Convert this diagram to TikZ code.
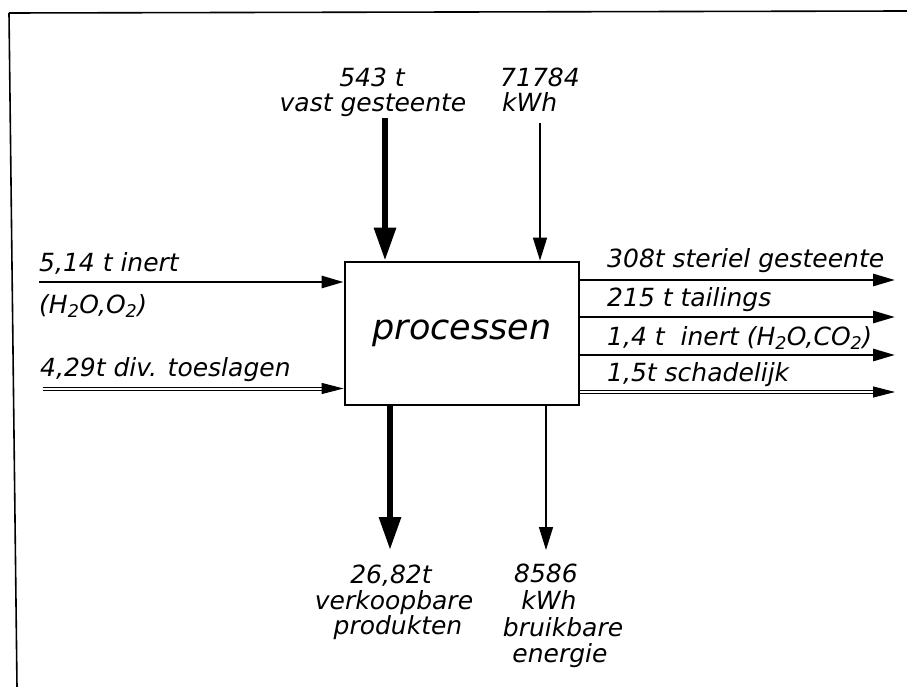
\documentclass[tikz,border=0pt]{standalone}
\usepackage{fontspec}
\setmainfont{DejaVu Sans}
\usetikzlibrary{arrows.meta}
\begin{document}
\begin{tikzpicture}[x=1pt,y=-1pt,
  lbl/.style={font=\fontsize{25}{28}\selectfont\itshape, inner sep=0pt},
  procbox/.style={draw, line width=2.8pt, minimum width=234pt, minimum height=143pt,
    font=\fontsize{35}{40}\selectfont\itshape},
  frameline/.style={line width=1.6pt},
  heavyarr/.style={line width=6pt, -{Triangle[length=33pt,width=21pt]}},
  normarr/.style={line width=2.8pt, -{Triangle[length=22pt,width=12pt]}},
  thinarr/.style={line width=1.5pt, -{Triangle[length=23pt,width=14pt]}},
  dblarr/.style={line width=1pt, double, double distance=2pt, -{Triangle[length=22pt,width=11pt]}}
]
\useasboundingbox (0,0) rectangle (907,687);
% frame
\draw[frameline] (9,13) -- (907,11);
\draw[frameline] (9,13) -- (17,687);

% process box
\node[procbox] (box) at (462,333.5) {processen};

% top inputs
\coordinate (srcRock) at (385,118);
\draw[heavyarr] (srcRock) -- (srcRock |- box.north);
\coordinate (srcE) at (540,123);
\draw[thinarr] (srcE) -- (srcE |- box.north);

% bottom outputs
\coordinate (prod) at (390,550);
\draw[heavyarr] (prod |- box.south) -- (prod);
\coordinate (energ) at (546,550);
\draw[thinarr] (energ |- box.south) -- (energ);

% left inputs
\coordinate (inInert) at (39,282);
\draw[normarr] (inInert) -- (inInert -| box.west);
\coordinate (inToes) at (43,388.5);
\draw[dblarr] (inToes) -- (inToes -| box.west);

% right outputs
\coordinate (outSter) at (895,280);
\draw[normarr] (outSter -| box.east) -- (outSter);
\coordinate (outTail) at (895,317);
\draw[normarr] (outTail -| box.east) -- (outTail);
\coordinate (outInert) at (895,355);
\draw[normarr] (outInert -| box.east) -- (outInert);
\coordinate (outSchad) at (895,392);
\draw[dblarr] (outSchad -| box.east) -- (outSchad);

% labels left
\node[lbl, anchor=base west] (lInert) at (39,271) {5,14 t inert};
\node[lbl, anchor=base west] (lInertC) at (39,313) {(H\textsubscript{2}O,O\textsubscript{2})};
\node[lbl, anchor=base west] (lToes) at (40,376) {4,29t div. toeslagen};

% labels right
\node[lbl, anchor=base west] (lSter) at (607,267) {308t steriel gesteente};
\node[lbl, anchor=base west] (lTail) at (607,306) {215 t tailings};
\node[lbl, anchor=base west] (lOInert) at (607,345) {1,4 t \ inert (H\textsubscript{2}O,CO\textsubscript{2})};
\node[lbl, anchor=base west] (lSchad) at (607,381) {1,5t schadelijk};

% labels top
\node[lbl, anchor=base] (lRock1) at (372,87) {543 t};
\node[lbl, anchor=base] (lRock2) at (373,112) {vast gesteente};
\node[lbl, anchor=base west] (lE1) at (500,87) {71784};
\node[lbl, anchor=base west] (lE2) at (502,112) {kWh};

% labels bottom
\node[lbl, anchor=base] (lProd1) at (391,583) {26,82t};
\node[lbl, anchor=base] (lProd2) at (394,609) {verkoopbare};
\node[lbl, anchor=base] (lProd3) at (398,634) {produkten};
\node[lbl, anchor=base] (lEn1) at (546,582) {8586};
\node[lbl, anchor=base] (lEn2) at (549,609) {kWh};
\node[lbl, anchor=base] (lEn3) at (563,636) {bruikbare};
\node[lbl, anchor=base] (lEn4) at (560,662) {energie};
\end{tikzpicture}
\end{document}
